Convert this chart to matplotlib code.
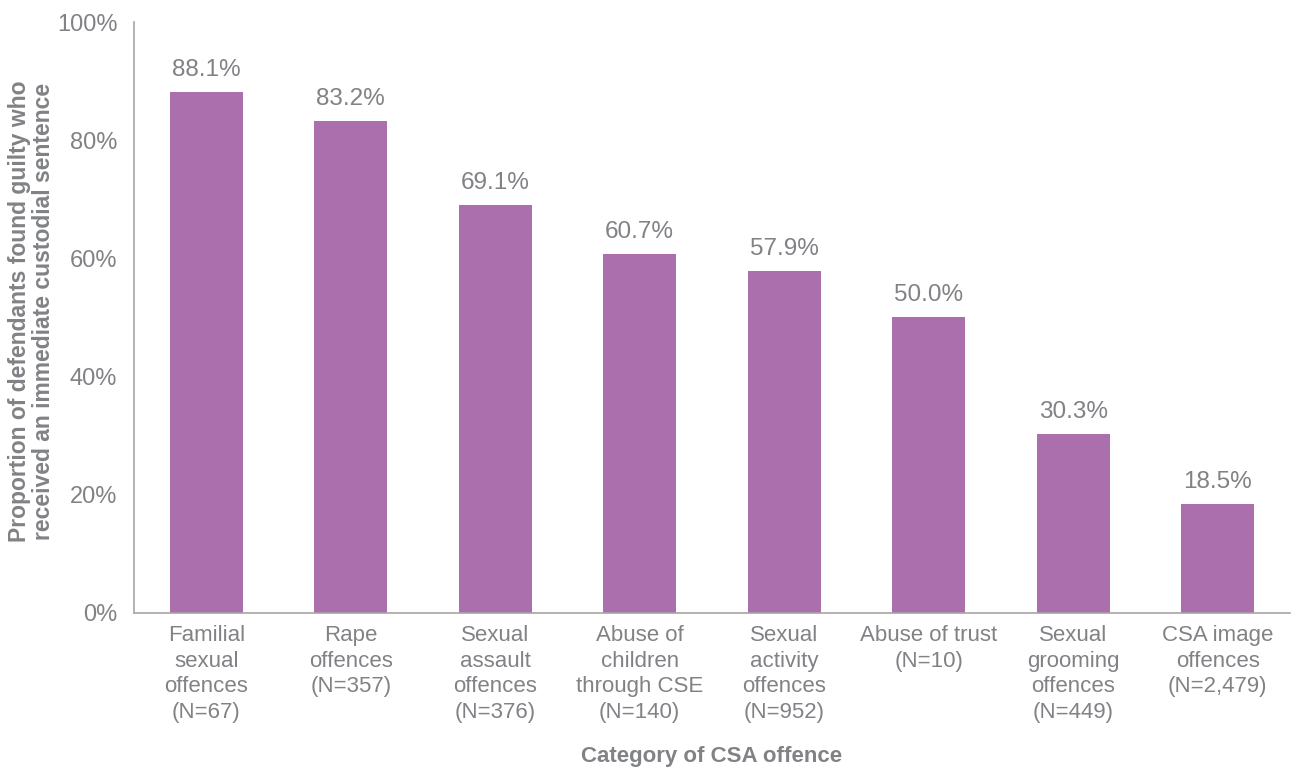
import matplotlib.pyplot as plt
from matplotlib.ticker import FuncFormatter

plt.rcParams["font.family"] = ["Liberation Sans", "DejaVu Sans"]

categories = [
    "Familial\nsexual\noffences\n(N=67)",
    "Rape\noffences\n(N=357)",
    "Sexual\nassault\noffences\n(N=376)",
    "Abuse of\nchildren\nthrough CSE\n(N=140)",
    "Sexual\nactivity\noffences\n(N=952)",
    "Abuse of trust\n(N=10)",
    "Sexual\ngrooming\noffences\n(N=449)",
    "CSA image\noffences\n(N=2,479)",
]
custodial_pct = [88.1, 83.2, 69.1, 60.7, 57.9, 50.0, 30.3, 18.5]

bar_color = "#AA6FAC"
text_color = "#808285"
axis_color = "#A6A6A6"

fig = plt.figure(figsize=(12.97, 7.67), dpi=100)
ax = fig.add_axes([0.1033, 0.2008, 0.8913, 0.7705])

x = range(len(categories))
bars = ax.bar(x, custodial_pct, width=0.505, color=bar_color)

for rect, val in zip(bars, custodial_pct):
    ax.annotate(f"{val:.1f}%", (rect.get_x() + rect.get_width() / 2, val),
                xytext=(0, 8), textcoords="offset points",
                ha="center", va="bottom", fontsize=17.5, color=text_color)

ax.set_xlim(-0.5, len(categories) - 0.5)
ax.set_ylim(0, 100)
ax.set_yticks(range(0, 101, 20))
ax.yaxis.set_major_formatter(FuncFormatter(lambda v, _: f"{v:.0f}%"))
ax.set_xticks(list(x))
ax.set_xticklabels(categories, linespacing=1.28, fontsize=16)

ax.tick_params(axis="both", length=0, colors=text_color)
ax.tick_params(axis="y", pad=12, labelsize=17)
ax.tick_params(axis="x", pad=9)

for side in ("top", "right"):
    ax.spines[side].set_visible(False)
for side in ("left", "bottom"):
    ax.spines[side].set_color(axis_color)
    ax.spines[side].set_linewidth(1.2)

ax.set_ylabel("Proportion of defendants found guilty who\nreceived an immediate custodial sentence",
              fontsize=16.5, fontweight="bold", color=text_color,
              linespacing=1.1)
ax.set_xlabel("Category of CSA offence", fontsize=16, fontweight="bold",
              color=text_color)
ax.yaxis.set_label_coords(-0.068, 0.51)
ax.xaxis.set_label_coords(0.5, -0.225)

fig.savefig("out.png", dpi=100)
